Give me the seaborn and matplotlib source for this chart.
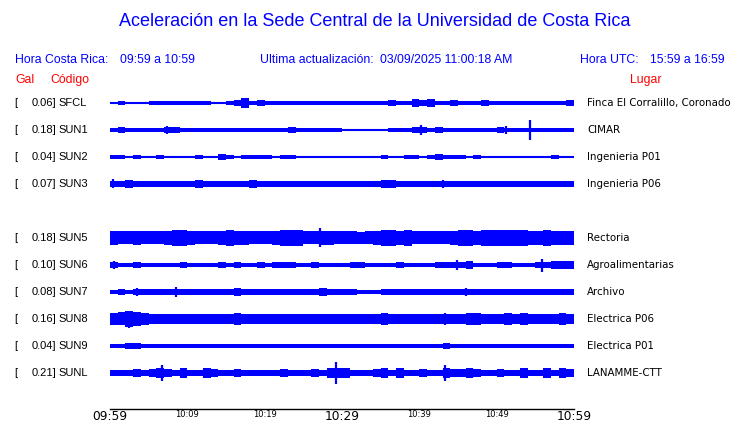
import numpy as np
import pandas as pd
import matplotlib
matplotlib.use("Agg")
import matplotlib.pyplot as plt
import matplotlib.transforms as mtrans
import seaborn as sns

# ---------------- data ----------------
codes = ["SFCL", "SUN1", "SUN2", "SUN3", "SUN5", "SUN6", "SUN7", "SUN8", "SUN9", "SUNL"]
gal = ["0.06", "0.18", "0.04", "0.07", "0.18", "0.10", "0.08", "0.16", "0.04", "0.21"]
places = ["Finca El Corralillo, Coronado", "CIMAR", "Ingenieria P01", "Ingenieria P06",
          "Rectoria", "Agroalimentarias", "Archivo", "Electrica P06", "Electrica P01", "LANAMME-CTT"]
# slot of each trace (an empty slot between SUN3 and SUN5)
slots = [0, 1, 2, 3, 5, 6, 7, 8, 9, 10]

# per-minute envelope half-amplitude (relative units), minutes 09:59 .. 10:58
env_sfcl = [1.0, 1.5, 0.8, 1.0, 1.0, 1.3, 1.5, 1.5, 1.5, 1.5, 1.5, 1.5, 1.5, 0.8, 0.8,
            1.5, 2.5, 4.0, 1.8, 2.0, 1.5, 1.5, 1.5, 1.5, 1.5, 1.5, 1.5, 1.5, 1.5, 1.5,
            1.3, 1.3, 1.3, 1.3, 1.3, 1.3, 2.0, 1.3, 1.5, 3.0, 2.5, 3.0, 1.5, 1.3, 2.2,
            1.3, 1.3, 1.3, 2.0, 1.3, 1.3, 1.3, 1.3, 1.3, 1.8, 1.3, 1.3, 1.3, 1.8, 2.3]
env_sun1 = [1.5, 2.0, 1.5, 1.5, 1.5, 1.5, 1.5, 2.2, 2.5, 1.5, 1.8, 1.5, 1.5, 1.5, 1.5,
            1.5, 1.5, 1.5, 1.5, 1.5, 1.5, 1.8, 1.5, 2.5, 1.5, 1.5, 1.3, 1.3, 1.3, 1.3,
            1.0, 1.0, 1.0, 1.0, 1.0, 1.0, 1.2, 1.2, 1.3, 2.0, 2.2, 1.5, 2.3, 1.5, 1.5,
            1.5, 1.5, 1.5, 1.5, 1.5, 2.0, 1.5, 1.5, 1.5, 1.5, 1.5, 1.5, 1.5, 1.5, 1.5]
env_sun2 = [1.3, 1.3, 1.0, 1.5, 1.0, 1.0, 1.2, 1.0, 1.0, 1.0, 1.0, 1.8, 1.0, 1.0, 2.0,
            1.2, 1.0, 1.2, 1.2, 1.3, 1.2, 1.0, 1.8, 1.2, 1.0, 1.0, 1.0, 1.0, 1.0, 1.0,
            0.8, 0.8, 0.8, 1.0, 1.0, 1.8, 1.0, 1.0, 1.2, 1.2, 1.0, 1.2, 2.0, 1.3, 1.2,
            1.2, 1.0, 1.2, 1.0, 0.8, 0.8, 1.0, 1.0, 1.0, 1.0, 1.0, 1.0, 1.2, 0.8, 0.8]
env_sun3 = [2.5, 2.3, 3.0, 2.5, 2.3, 2.0, 2.3, 2.0, 2.3, 2.0, 2.3, 2.8, 2.0, 2.0, 2.5,
            2.3, 2.0, 2.3, 2.8, 2.3, 2.0, 2.5, 2.3, 2.0, 2.3, 2.0, 2.3, 2.0, 2.3, 2.0,
            2.0, 2.0, 2.0, 2.3, 2.5, 3.0, 3.0, 2.3, 2.0, 2.0, 2.0, 2.0, 2.5, 2.0, 2.0,
            2.0, 2.3, 2.0, 2.3, 2.0, 2.3, 2.5, 2.3, 2.0, 2.0, 2.3, 2.3, 2.5, 2.3, 2.5]
env_sun5 = [5.5, 5.0, 5.0, 5.5, 5.0, 5.0, 5.0, 5.5, 6.0, 6.0, 5.5, 5.0, 5.0, 5.0, 5.5,
            6.0, 5.5, 5.5, 5.0, 5.0, 5.0, 5.5, 6.0, 6.5, 6.0, 5.0, 5.0, 5.5, 5.5, 5.0,
            5.0, 5.0, 4.5, 5.0, 5.5, 6.0, 6.0, 5.5, 6.0, 5.0, 5.0, 5.0, 5.0, 5.0, 5.5,
            6.0, 6.5, 5.5, 6.0, 6.5, 6.5, 6.5, 6.5, 6.0, 5.5, 5.5, 6.5, 5.5, 5.5, 5.5]
env_sun6 = [2.5, 1.8, 1.8, 2.5, 1.8, 1.5, 1.5, 1.8, 1.5, 2.3, 1.5, 1.8, 1.5, 1.5, 2.3,
            1.5, 2.3, 1.5, 1.5, 2.3, 1.8, 2.3, 2.3, 2.0, 1.8, 1.8, 2.3, 1.5, 1.8, 1.5,
            1.5, 2.3, 2.0, 1.8, 1.5, 1.8, 1.5, 2.0, 1.5, 1.5, 1.5, 1.5, 2.5, 2.0, 2.3,
            2.0, 2.8, 1.8, 1.5, 1.5, 2.3, 2.3, 1.5, 1.5, 1.5, 2.5, 2.0, 2.8, 2.8, 2.8]
env_sun7 = [1.7, 2.3, 1.7, 2.5, 2.3, 2.0, 2.0, 2.3, 2.5, 2.0, 2.0, 2.5, 2.5, 2.3, 2.0,
            2.0, 2.8, 2.3, 2.0, 2.0, 2.0, 2.0, 2.0, 2.3, 2.0, 2.0, 2.5, 2.8, 2.0, 2.3,
            2.3, 2.3, 1.8, 1.8, 1.8, 2.3, 2.0, 2.0, 2.0, 2.0, 2.3, 2.0, 2.0, 2.0, 2.3,
            2.5, 2.0, 2.0, 2.3, 2.3, 2.0, 2.0, 2.3, 2.3, 2.5, 2.0, 2.3, 2.3, 2.0, 2.3]
env_sun8 = [4.5, 5.0, 6.0, 5.5, 4.5, 4.0, 3.5, 4.0, 4.0, 3.8, 3.8, 4.0, 3.5, 3.8, 4.0,
            3.5, 4.5, 4.0, 3.5, 4.0, 3.5, 3.5, 3.8, 3.8, 3.5, 3.5, 3.5, 3.8, 4.0, 3.5,
            4.0, 4.0, 4.0, 3.5, 3.5, 4.5, 4.0, 3.5, 3.5, 3.5, 3.5, 3.5, 3.8, 4.0, 4.0,
            4.0, 4.3, 4.3, 4.0, 3.5, 4.0, 4.3, 3.8, 4.5, 4.0, 3.5, 4.0, 4.0, 4.3, 4.0]
env_sun9 = [1.5, 1.5, 2.0, 2.2, 1.5, 1.5, 1.5, 1.8, 1.5, 1.5, 1.5, 1.8, 1.5, 1.5, 1.8,
            1.5, 1.5, 1.5, 1.5, 1.5, 1.5, 1.5, 1.5, 1.5, 1.5, 1.5, 1.5, 1.5, 1.8, 1.5,
            1.5, 1.5, 1.5, 1.5, 1.5, 1.8, 1.5, 1.5, 1.5, 1.5, 1.5, 1.5, 1.5, 2.2, 1.5,
            1.5, 1.5, 1.5, 1.5, 1.5, 1.5, 1.5, 1.5, 1.5, 1.5, 1.5, 1.8, 1.5, 1.5, 1.5]
env_sunl = [2.0, 2.0, 2.2, 3.0, 2.5, 3.0, 3.5, 3.0, 2.5, 3.5, 2.5, 2.5, 3.5, 3.0, 2.2,
            2.2, 3.0, 2.5, 2.2, 2.2, 2.5, 2.2, 3.0, 2.5, 2.5, 2.5, 3.0, 2.2, 3.5, 4.0,
            3.5, 2.0, 2.0, 2.2, 3.0, 3.5, 2.2, 3.5, 2.0, 2.0, 3.0, 2.2, 2.0, 3.5, 3.0,
            3.0, 3.5, 3.0, 2.2, 2.0, 2.8, 2.0, 2.2, 3.5, 2.5, 2.0, 3.5, 2.0, 3.5, 2.8]
envelopes = [env_sfcl, env_sun1, env_sun2, env_sun3, env_sun5,
             env_sun6, env_sun7, env_sun8, env_sun9, env_sunl]

# isolated narrow spikes: station, minute, half-amplitude
spike_code = ["SFCL", "SUN1", "SUN1", "SUN1", "SUN1", "SUN2", "SUN3", "SUN3", "SUN3",
              "SUN5", "SUN5", "SUN5", "SUN6", "SUN6", "SUN6", "SUN7", "SUN7", "SUN7",
              "SUN8", "SUN8", "SUN8", "SUNL", "SUNL", "SUNL", "SUNL", "SUN9"]
spike_min = [17.0, 7.1, 39.9, 50.9, 54.0, 14.0, 0.1, 42.8, 35.9,
             26.8, 51.0, 45.7, 55.5, 44.6, 0.2, 8.2, 3.2, 45.7,
             2.2, 43.0, 35.3, 6.4, 28.9, 43.0, 46.5, 43.0]
spike_amp = [4.7, 4.3, 4.7, 4.0, 10.0, 2.8, 4.5, 4.0, 3.5,
             9.5, 8.0, 7.0, 6.5, 4.5, 4.3, 5.0, 4.2, 4.3,
             8.5, 6.0, 5.5, 7.7, 11.3, 8.3, 5.0, 3.0]

tick_major = [0, 10, 20, 30, 40, 50, 60]
tick_minor = [5, 15, 25, 35, 45, 55]
tick_labels = ["09:59", "10:09", "10:19", "10:29", "10:39", "10:49", "10:59"]
tick_big = ["09:59", "10:29", "10:59"]

# ---------------- figure ----------------
W, H = 740, 423
sns.set_style("white")
plt.rcParams["font.family"] = ["Liberation Sans", "DejaVu Sans"]

fig = plt.figure(figsize=(W / 100, H / 100), dpi=100)
fig.patch.set_facecolor("white")

ROW = 27.0          # px per slot
FIRST = 103.0       # px of first trace centre
TOP, BOT = 90.0, 409.0
GAIN = 1.3          # display gain of the traces
ax = fig.add_axes([110 / W, 1 - BOT / H, 464 / W, (BOT - TOP) / H])
ax.set_facecolor("white")

BLUE = "#0000ff"
minutes = np.arange(61)
slot_of = dict(zip(codes, slots))

rows = []
for code, slot in zip(codes, slots):
    for m in minutes:
        rows.append({"code": code, "minute": m, "y": -slot})
df = pd.DataFrame(rows)
sns.lineplot(data=df, x="minute", y="y", units="code", estimator=None,
             color=BLUE, linewidth=1.5, ax=ax, legend=False)

for slot, env in zip(slots, envelopes):
    yc = -slot
    e = GAIN * np.asarray(env + [env[-1]]) / ROW
    ax.fill_between(minutes, yc - e, yc + e, step="post",
                    color=BLUE, linewidth=0, antialiased=False)

sp = pd.DataFrame({"code": spike_code, "minute": spike_min, "amp": spike_amp})
sp["y"] = [-slot_of[c] for c in sp["code"]]
ax.vlines(sp["minute"] + 0.3, sp["y"] - sp["amp"] / ROW, sp["y"] + sp["amp"] / ROW,
          color=BLUE, linewidth=1.6)

ax.set_xlim(0, 60)
ax.set_ylim(-(BOT - FIRST) / ROW, (FIRST - TOP) / ROW)
ax.set_yticks([])
ax.set_xlabel("")
ax.set_ylabel("")
for s in ["top", "left", "right"]:
    ax.spines[s].set_visible(False)
ax.spines["bottom"].set_color("black")
ax.spines["bottom"].set_linewidth(1.0)

ax.set_xticks(tick_major)
ax.set_xticks(tick_minor, minor=True)
ax.set_xticklabels(tick_labels, family="DejaVu Sans")
ax.tick_params(axis="x", which="both", direction="in", length=6.5, width=0.9,
               color="black", pad=0.8, labelsize=6, labelcolor="black")
for lab in ax.get_xticklabels():
    if lab.get_text() in tick_big:
        lab.set_fontsize(8.8)

# ---------------- texts ----------------
def ft(x, y, s, **kw):
    fig.text(x / W, 1 - y / H, s, **kw)

ft(375, 22, "Aceleración en la Sede Central de la Universidad de Costa Rica",
   ha="center", va="center", color=BLUE, fontsize=13)
hdr = dict(va="center", color=BLUE, fontsize=8.8)
ft(15, 60, "Hora Costa Rica:", **hdr)
ft(120, 60, "09:59 a 10:59", **hdr)
ft(260, 60, "Ultima actualización:", **hdr)
ft(380, 60, "03/09/2025 11:00:18 AM", **hdr)
ft(580, 60, "Hora UTC:", **hdr)
ft(650, 60, "15:59 a 16:59", **hdr)
red = dict(va="center", color="#ff0000", fontsize=8.8)
ft(15, 80, "Gal", **red)
ft(50, 80, "Código", **red)
ft(630, 80, "Lugar", **red)

tr = mtrans.blended_transform_factory(fig.transFigure, ax.transData)
for code, g, place, slot in zip(codes, gal, places, slots):
    yc = -slot
    fig.text(14 / W, yc, "[", transform=tr, va="center", fontsize=8, color="black")
    fig.text(56 / W, yc, g + "]", transform=tr, va="center", ha="right",
             fontsize=8, color="black")
    fig.text(58 / W, yc, code, transform=tr, va="center", fontsize=8, color="black")
    fig.text(587 / W, yc, place, transform=tr, va="center", fontsize=7.4,
             color="black", family="DejaVu Sans")

fig.savefig("out.png", dpi=100, facecolor="white")
